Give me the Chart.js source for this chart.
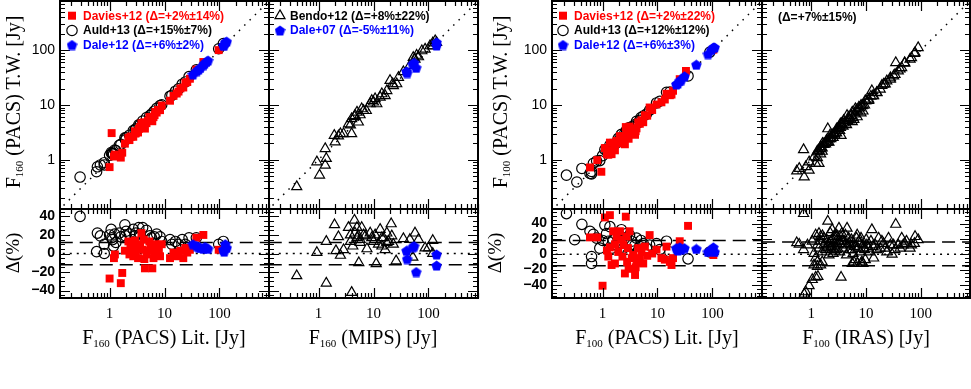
<!DOCTYPE html>
<html>
<head>
<meta charset="utf-8">
<title>PACS flux comparison</title>
<script src="https://cdn.jsdelivr.net/npm/chart.js@4.4.1/dist/chart.umd.min.js"></script>
<style>
html,body{margin:0;padding:0;background:#fff;}
#wrap{position:relative;width:971px;height:389px;overflow:hidden;background:#fff;}
#wrap canvas{position:absolute;left:0;top:0;}
.tt{position:absolute;font-family:"Liberation Serif","Times New Roman",serif;font-size:20px;line-height:20px;color:#000;white-space:nowrap;}
.tt sub{font-size:11px;vertical-align:-3px;line-height:0;}
.rot{transform:translate(-50%,-50%) rotate(-90deg);}
.hz{transform:translate(-50%,-50%);}
.dl{font-size:19px;}
</style>
</head>
<body>
<div id="wrap">
 <div class="tt rot" style="left:13px;top:102px">F<sub>160</sub> (PACS) T.W. [Jy]</div>
 <div class="tt rot dl" style="left:13px;top:253px">Δ(%)</div>
 <div class="tt rot" style="left:500px;top:102px">F<sub>100</sub> (PACS) T.W. [Jy]</div>
 <div class="tt rot dl" style="left:495px;top:253px">Δ(%)</div>
 <div class="tt hz" style="left:164px;top:337px">F<sub>160</sub> (PACS) Lit. [Jy]</div>
 <div class="tt hz" style="left:373px;top:337px">F<sub>160</sub> (MIPS) [Jy]</div>
 <div class="tt hz" style="left:657px;top:337px">F<sub>100</sub> (PACS) Lit. [Jy]</div>
 <div class="tt hz" style="left:866px;top:337px">F<sub>100</sub> (IRAS) [Jy]</div>
</div>
<script>
// ================= DATA =================
const logTickLabels = [1, 10, 100];
const deltaTickLabels = [-40, -20, 0, 20, 40];
const oneToOne = [0.01, 10000];
const zeroLine = 0;
const p1Sigma = [12, -12];
const p2Sigma = [12, -12];
const p3Sigma = [18, -15];
const p4Sigma = [16, -15];

// Panel 1: F160 PACS literature vs this work
const p1TopDavies = [[1.0,0.73],[1.6,1.09],[1.7,1.34],[1.2,1.14],[1.25,1.24],[1.9,1.96],[2.2,2.49],[2.3,2.28],[2.5,2.65],[2.7,2.62],[2.9,3.02],[3.0,3.03],[3.3,3.14],[3.6,3.96],[3.8,4.64],[4.0,4.16],[4.3,4.04],[4.4,3.7],[4.7,4.65],[5.0,5.15],[5.3,5.99],[5.8,6.03],[6.0,5.04],[6.3,5.99],[6.8,7.48],[7.2,7.27],[7.6,8.06],[8.3,8.05],[8.9,9.79],[12.6,11.97],[14.6,14.7],[16.7,16.2],[19.5,20.1],[22,20.9],[26,26.3],[29,30.2],[38,44.5],[51,61.2],[97,101],[2.9,3.31],[4.2,4.83],[5.6,6.05],[3.4,3.64],[2.4,2.62],[6.6,6.53],[7.9,8.14],[18,17.6],[24,25.4],[1.09,3.06]];
const p1TopAuld = [[0.29,0.48],[0.58,0.6],[0.6,0.74],[0.68,0.8],[0.8,0.88],[0.8,0.8],[1.0,1.2],[1.07,1.35],[1.13,1.3],[1.18,1.27],[1.24,1.5],[1.5,1.83],[1.9,2.5],[1.95,2.3],[2.3,2.8],[2.7,3.4],[2.9,3.45],[3.4,4.35],[4.0,5.1],[4.7,5.9],[5.4,6.4],[5.8,6.8],[7.2,8.7],[8.3,9.8],[8.9,10.1],[12.6,14.5],[13.6,15],[15.8,17.9],[18,19.8],[21,24],[24,26.4],[28,33],[38,44],[97,107],[118,133],[1.3,1.46],[1.6,1.9],[2.0,2.5],[1.1,1.29],[3.0,3.66],[3.6,4.36],[6.5,7.7]];
const p1TopDale = [[33,36.3],[38.6,41.7],[45,47.7],[51,53.6],[58,61.5],[62,65.1],[118,122.7],[128,140.8],[136,144.2],[122,124.4],[42,44.9],[54,57.8]];
const p1BotDavies = [[1.0,-27],[1.6,-32],[1.7,-21],[1.2,-5],[1.25,-1],[1.9,3],[2.2,13],[2.3,-1],[2.5,6],[2.7,-3],[2.9,4],[3.0,1],[3.3,-5],[3.6,10],[3.8,22],[4.0,4],[4.3,-6],[4.4,-16],[4.7,-1],[5.0,3],[5.3,13],[5.8,4],[6.0,-16],[6.3,-5],[6.8,10],[7.2,1],[7.6,6],[8.3,-3],[8.9,10],[12.6,-5],[14.6,1],[16.7,-3],[19.5,3],[22,-5],[26,1],[29,4],[38,17],[51,20],[97,4],[2.9,14],[4.2,15],[5.6,8],[3.4,7],[2.4,9],[6.6,-1],[7.9,3],[18,-2],[24,6]];
const p1BotAuld = [[0.29,40],[0.58,2],[0.6,22],[0.68,19],[0.8,10],[0.8,0],[1.0,20],[1.07,26],[1.13,15],[1.18,8],[1.24,21],[1.5,22],[1.9,31],[1.95,19],[2.3,21],[2.7,26],[2.9,19],[3.4,28],[4.0,28],[4.7,25],[5.4,19],[5.8,17],[7.2,21],[8.3,18],[8.9,13],[12.6,15],[13.6,10],[15.8,13],[18,10],[21,15],[24,10],[28,17],[38,17],[97,10],[118,13],[1.3,12],[1.6,18],[2.0,24],[1.1,17],[3.0,22],[3.6,21],[6.5,18]];
const p1BotDale = [[33,10],[38.6,8],[45,6],[51,5],[58,6],[62,5],[118,4],[128,10],[136,6],[122,2],[42,7],[54,7]];

// Panel 2: F160 MIPS vs this work
const p2TopBendo = [[0.40,0.32],[1.04,0.52],[0.93,0.91],[1.32,0.79],[1.38,1.05],[1.32,1.59],[2.0,2.1],[1.93,2.78],[2.5,2.98],[2.85,2.98],[4.0,2.98],[3.5,4.5],[4.0,5.6],[4.6,6.4],[5.3,4.87],[5.0,7.4],[6.1,8.5],[7.4,7.9],[9.3,12.1],[11.5,10.5],[10.7,13],[14.2,16],[16.3,14.8],[20,28],[22.4,24.4],[26.5,24.4],[28.5,32],[53,74],[61,81],[76,98],[87,105],[107,121],[133,150],[141,139],[13.2,13.9],[17.5,18.3],[23,22.6],[10,11.3],[8.7,10.5],[5.7,6.6],[6.6,7.9],[3.8,4.3],[4.5,6.1],[2.3,2.7],[35,40.6],[46,53],[57,69],[66,76],[120,137],[120,120]];
const p2TopDale07 = [[40,41.2],[41,38.5],[52,55.6],[55,59.4],[60,48],[141,139.6],[141,122.7]];
const p2BotBendo = [[0.40,-24],[0.93,1],[1.38,-32],[1.38,13],[1.95,31],[2.07,3],[2.3,18],[2.5,-2],[2.85,4],[3.5,28],[3.8,20],[4.0,-42],[4.2,8],[4.5,36],[4.6,22],[5.0,28],[5.3,19],[5.4,-10],[5.7,12],[6.1,28],[6.6,20],[7.6,5],[8.7,22],[9.3,17],[10.7,20],[11.2,-11],[12.3,10],[13.2,26],[14.2,8],[15.2,17],[16.3,4],[17.5,22],[18.8,13],[21,32],[21.5,19],[23,10],[25.8,-8],[35,16],[46,15],[52,-4],[57,22],[66,15],[87,6],[100,6],[120,14],[120,0],[5.0,17],[7.1,19],[10,13],[14.2,17],[17.5,12],[5.7,15],[3.8,13]];
const p2BotDale07 = [[40,3],[41,-6],[52,7],[55,8],[60,-20],[141,-1],[141,-13]];

// Panel 3: F100 PACS literature vs this work
const p3TopDavies = [[0.59,0.72],[0.8,0.98],[0.95,0.6],[1.1,1.63],[1.36,2.05],[1.36,1.48],[1.27,1.23],[1.46,1.26],[1.56,2.03],[1.68,1.48],[1.8,2.21],[2.07,2.69],[2.2,2.62],[2.4,2.69],[2.55,1.91],[2.65,3.95],[2.73,3.36],[2.8,2.52],[2.9,3.13],[2.98,2.41],[3.6,3.56],[3.9,2.85],[4.15,3.74],[4.45,4.81],[4.77,4.53],[5.1,5.25],[5.5,4.84],[5.9,6.49],[7.2,9.0],[9.6,10.2],[11.8,11.2],[13.6,12.6],[14.6,16.1],[16.8,15.1],[18,15.5],[19.2,18.2],[25.4,29.7],[33,42],[104,103],[1.68,1.9],[1.93,1.99],[3.1,4.03],[3.4,3.23],[1.2,1.26],[2.3,2.23],[4.0,3.32],[6.5,6.37],[8,8.1]];
const p3TopAuld = [[0.22,0.52],[0.34,0.39],[0.42,0.69],[0.59,0.56],[0.63,0.61],[0.63,0.55],[0.68,0.86],[0.78,0.94],[0.89,0.96],[1.1,1.52],[1.18,1.5],[1.27,1.49],[1.36,1.85],[1.46,1.58],[1.56,1.86],[1.8,2.02],[1.93,2.45],[2.2,2.9],[2.4,2.59],[2.55,3.09],[2.73,3.47],[2.9,2.93],[3.4,3.98],[3.9,4.37],[4.15,5.02],[4.77,5.25],[5.5,6.27],[6.3,6.8],[7.2,8.06],[9.6,10.9],[11,11.7],[14.6,17.1],[16.8,17.3],[36,34],[90,93],[1.0,1.18],[2.0,2.3],[3.1,3.88],[4.5,4.73],[5.0,5.9]];
const p3TopDale = [[22,23.8],[25.4,27.7],[27,28.6],[31,33.5],[51,54.6],[83,85.5],[96,102],[104,113],[110,113],[23.5,24.7]];
const p3BotDavies = [[0.59,22],[0.8,22],[1.0,-41],[1.1,48],[1.36,51],[1.36,9],[1.27,-3],[1.46,-14],[1.56,30],[1.68,-12],[1.8,23],[2.07,30],[2.2,19],[2.4,12],[2.55,-25],[2.65,49],[2.73,23],[2.8,-10],[2.9,8],[2.98,-19],[3.6,-1],[3.9,-27],[4.15,-10],[4.45,8],[4.77,-5],[5.1,3],[5.5,-12],[5.9,10],[7.2,25],[9.6,6],[11.8,-5],[13.6,-7],[14.6,10],[16.8,-10],[18,-14],[19.2,-5],[25.4,17],[36,37],[104,-1],[1.68,13],[1.93,3],[3.1,30],[3.4,-5],[1.2,5],[2.3,-3],[4.0,-17],[6.5,-2],[8,1]];
const p3BotAuld = [[0.22,53],[0.31,19],[0.42,39],[0.59,30],[0.63,-3],[0.63,-12],[0.68,26],[0.78,21],[0.89,8],[1.1,38],[1.18,27],[1.27,17],[1.36,36],[1.46,8],[1.56,19],[1.8,12],[1.93,27],[2.2,32],[2.4,8],[2.55,21],[2.73,27],[2.9,1],[3.4,17],[3.9,12],[4.15,21],[4.77,10],[5.5,14],[6.3,8],[7.2,12],[9.6,14],[11,6],[14.6,17],[16.8,3],[36,-6],[90,3],[1.0,18],[2.0,15],[3.1,25],[4.5,5],[5.0,18]];
const p3BotDale = [[22,8],[25.4,9],[27,6],[31,8],[51,7],[83,3],[96,6],[104,9],[110,3],[23.5,5]];

// Panel 4: F100 IRAS vs this work
const p4TopIras = [[0.72,1.52],[0.54,0.62],[0.6,0.69],[0.74,0.48],[0.79,0.74],[0.91,0.64],[0.91,0.91],[1.12,1.12],[1.2,0.85],[1.38,0.85],[1.29,1.38],[1.48,1.58],[1.7,1.95],[2.0,2.1],[2.0,3.66],[2.25,2.4],[2.6,2.97],[2.8,3.18],[3.2,3.93],[3.4,4.5],[3.5,2.77],[3.9,5.2],[4.5,6.4],[4.8,5.96],[5.6,7.4],[6.4,8.5],[7.4,9.1],[8.4,9.7],[9.7,12],[11.2,12.8],[12.8,18.2],[13.8,14.7],[15.8,17],[18.2,19.5],[21,24],[24,27.6],[28,29.6],[32,34],[35,59.5],[39,42],[45,48],[51,59.5],[68,73],[79,90],[90,112],
 [1.29,1.44],[1.38,1.49],[1.48,1.73],[1.58,1.63],[1.7,1.9],[1.82,1.93],[1.9,2.26],[2.1,2.39],[2.1,2.08],[2.25,2.43],[2.4,2.86],[2.5,2.53],[2.65,3.02],[2.9,3.07],[3.05,3.69],[3.3,3.4],[3.4,3.88],[3.8,4.1],[4.0,4.68],[4.4,4.36],[4.6,5.15],[5.0,5.3],[5.4,6.43],[5.8,5.86],[6.2,6.82],[6.7,8.1],[7.1,7.67],[7.7,8.78],[8.1,9.8],[8.8,9.86],[9.4,9.96],[10.1,12],[11.2,12.1],[12.3,14.4],[13.4,14.7],[15.8,16.7],[19.5,22.8],[22.5,24.3],[28,31.4],[34,36],[42,45.4],[51,58],[64,69],[77,87.8],
 [6.0,5.4],[6.9,6.07],[8.1,7.13],[8.8,7.74],[5.6,4.93],[1.48,1.27],[1.58,1.42],[1.29,1.08],
 [1.6,1.98],[2.2,2.82],[2.9,3.63],[3.6,4.57],[1.9,2.07],[2.7,2.81],[3.1,3.63],[4.9,5.59],[3.5,4.27],[2.3,2.53]];
const p4BotIras = [[0.72,53],[0.54,15],[0.6,13],[0.72,6],[0.74,-52],[0.79,-49],[0.91,-41],[1.04,-33],[1.2,-30],[1.32,-29],[1.12,-14],[1.29,-10],[1.2,-5],[1.12,1],[0.85,12],[1.04,17],[1.2,25],[1.38,27],[1.48,23],[1.7,21],[2.0,43],[2.0,12],[2.25,17],[2.4,32],[2.6,23],[2.8,8],[3.0,12],[3.2,34],[3.5,-30],[3.65,17],[4.2,25],[4.5,34],[4.8,21],[5.2,12],[5.6,6],[6.0,14],[6.4,-7],[6.9,25],[7.4,17],[7.9,3],[8.4,-10],[9.0,8],[9.7,-7],[10.4,12],[11.7,3],[12.8,32],[13.8,-5],[14.8,12],[17,21],[18.2,8],[21,14],[24,3],[25.8,21],[30,0],[32,12],[35,39],[39,12],[45,21],[48,12],[55,17],[68,12],[79,23],[90,19],
 [1.29,12],[1.38,8],[1.48,17],[1.58,3],[1.7,12],[1.82,6],[1.9,19],[2.1,14],[2.1,-1],[2.25,8],[2.4,19],[2.5,1],[2.65,14],[2.9,6],[3.05,21],[3.3,3],[3.4,14],[3.8,8],[4.0,17],[4.4,-1],[4.6,12],[5.0,6],[5.4,19],[5.8,1],[6.2,10],[6.7,21],[7.1,8],[7.7,14],[8.1,21],[8.8,12],[9.4,6],[10.1,19],[11.2,8],[12.3,17],[13.4,10],[15.8,6],[19.5,17],[22.5,8],[28,12],[34,6],[42,8],[51,14],[64,8],[77,14],
 [6.0,-10],[6.9,-12],[8.1,-12],[8.8,-12],[5.6,-12],[1.48,-14],[1.58,-10],[1.29,-16],
 [1.6,24],[2.2,28],[2.9,25],[3.6,27],[1.9,9],[2.7,4],[3.1,17],[4.9,14],[3.5,22],[2.3,10]];

// ================= STYLE / RENDERING =================
const RED = '#ff0000', BLUE = '#0000ff', BLACK = '#000000';
const W = 971, H = 389;
const wrap = document.getElementById('wrap');

function makePentagon(size, color) {
  const c = document.createElement('canvas');
  c.width = size; c.height = size;
  const g = c.getContext('2d');
  const r = size / 2;
  const cy = r + r * (1 - Math.cos(Math.PI / 5)) / 2;
  g.beginPath();
  for (let i = 0; i < 5; i++) {
    const a = -Math.PI / 2 + i * 2 * Math.PI / 5;
    g.lineTo(r + r * Math.cos(a), cy + r * Math.sin(a));
  }
  g.closePath(); g.fillStyle = color; g.fill();
  return c;
}
const PENT = makePentagon(11, BLUE);

const pts = a => a.map(([x, y]) => ({x, y}));
const squares = d => ({data: pts(d), pointStyle: 'rect', pointRadius: 5.6, backgroundColor: RED, borderWidth: 0});
const circles = d => ({data: pts(d), pointStyle: 'circle', pointRadius: 5.2, backgroundColor: 'rgba(0,0,0,0)', borderColor: BLACK, borderWidth: 1.2});
const triangles = d => ({data: pts(d), pointStyle: 'triangle', pointRadius: 5.8, backgroundColor: 'rgba(0,0,0,0)', borderColor: BLACK, borderWidth: 1.2});
const pentagons = d => ({data: pts(d), pointStyle: PENT, pointRadius: 5, backgroundColor: BLUE, borderWidth: 0});
const diagLine = () => ({data: oneToOne.map(v => ({x: v, y: v})), showLine: true, pointRadius: 0, borderColor: BLACK, borderWidth: 1.5, borderDash: [1.5, 6]});
const hLine = (y, dash, w) => ({data: oneToOne.map(v => ({x: v, y})), showLine: true, pointRadius: 0, borderColor: BLACK, borderWidth: w, borderDash: dash});
const deltaLines = s => [hLine(s[0], [13, 7], 1.5), hLine(s[1], [13, 7], 1.5), hLine(zeroLine, [2, 5], 1.3)];

function tickValues(scale) {
  const out = [];
  if (scale.type === 'logarithmic') {
    const k0 = Math.floor(Math.log10(scale.min)), k1 = Math.ceil(Math.log10(scale.max));
    for (let k = k0; k <= k1; k++) for (let m = 1; m <= 9; m++) {
      const v = m * Math.pow(10, k);
      if (v >= scale.min * 0.999 && v <= scale.max * 1.001) out.push([v, m === 1]);
    }
  } else {
    for (let v = Math.ceil(scale.min / 5) * 5; v <= scale.max; v += 5) out.push([v, v % 20 === 0]);
  }
  return out;
}

const frameTicks = {
  id: 'frameTicks',
  afterDatasetsDraw(chart) {
    const {ctx, chartArea: a} = chart;
    const xs = chart.scales.x, ys = chart.scales.y;
    ctx.save();
    ctx.strokeStyle = BLACK; ctx.lineWidth = 1.2; ctx.setLineDash([]);
    ctx.beginPath();
    for (const [v, maj] of tickValues(xs)) {
      const p = Math.round(xs.getPixelForValue(v)) + 0.5, L = maj ? 10 : 5;
      ctx.moveTo(p, a.bottom); ctx.lineTo(p, a.bottom - L);
      ctx.moveTo(p, a.top); ctx.lineTo(p, a.top + L);
    }
    for (const [v, maj] of tickValues(ys)) {
      const p = Math.round(ys.getPixelForValue(v)) + 0.5, L = maj ? 10 : 5;
      ctx.moveTo(a.left, p); ctx.lineTo(a.left + L, p);
      ctx.moveTo(a.right, p); ctx.lineTo(a.right - L, p);
    }
    ctx.stroke();
    ctx.lineWidth = 2;
    ctx.strokeRect(a.left, a.top, a.right - a.left, a.bottom - a.top);
    ctx.restore();
  }
};

function drawMarker(ctx, style, color, x, y) {
  ctx.save();
  if (style === 'rect') { ctx.fillStyle = color; ctx.fillRect(x - 4, y - 4, 8, 8); }
  else if (style === 'circle') { ctx.strokeStyle = color; ctx.lineWidth = 1.2; ctx.beginPath(); ctx.arc(x, y, 5.2, 0, Math.PI * 2); ctx.stroke(); }
  else if (style === 'triangle') {
    const r = 5.8; ctx.strokeStyle = color; ctx.lineWidth = 1.2; ctx.beginPath();
    for (let i = 0; i < 3; i++) { const a = i * 2 * Math.PI / 3; ctx.lineTo(x + Math.sin(a) * r, y - Math.cos(a) * r); }
    ctx.closePath(); ctx.stroke();
  }
  else if (style === 'pent') { ctx.drawImage(PENT, x - PENT.width / 2, y - PENT.height / 2); }
  ctx.restore();
}

const panelLegend = {
  id: 'panelLegend',
  afterDraw(chart, args, opts) {
    const items = opts.items || [];
    const ctx = chart.ctx;
    ctx.save();
    ctx.font = 'bold 12px "Liberation Sans", Arial, sans-serif';
    ctx.textBaseline = 'middle'; ctx.textAlign = 'left';
    for (const it of items) {
      if (it.marker) drawMarker(ctx, it.marker, it.color, it.mx, it.y);
      ctx.fillStyle = it.color;
      ctx.fillText(it.text, it.tx, it.y + 0.5);
    }
    ctx.restore();
  }
};

const zeroPad = s => { s.paddingLeft = 0; s.paddingRight = 0; s.paddingTop = 0; s.paddingBottom = 0; };

function makePanel(cfg) {
  const c = document.createElement('canvas');
  c.width = W; c.height = H;
  wrap.insertBefore(c, wrap.firstChild);
  const [L, T, R, B] = cfg.box;
  const yW = cfg.yLabels ? cfg.yW : 0;
  const xH = cfg.xLabels ? 40 : 0;
  const isDelta = cfg.yType === 'linear';
  new Chart(c, {
    type: 'scatter',
    data: {datasets: cfg.datasets},
    options: {
      responsive: false, animation: false, events: [], devicePixelRatio: 1,
      layout: {autoPadding: false, padding: {left: L - yW, top: T, right: W - R, bottom: H - B - xH}},
      plugins: {legend: {display: false}, tooltip: {enabled: false}, panelLegend: {items: cfg.legend || []}},
      scales: {
        x: {
          type: 'logarithmic', min: cfg.xr[0], max: cfg.xr[1], display: cfg.xLabels, position: 'bottom',
          grid: {display: false, drawTicks: false}, border: {display: false},
          ticks: {color: BLACK, padding: 7, autoSkip: false, maxRotation: 0,
                  font: {family: '"Liberation Serif", "Times New Roman", serif', size: 15},
                  callback: v => String(v)},
          afterBuildTicks: s => { s.ticks = logTickLabels.map(v => ({value: v})); },
          afterFit: s => { s.height = xH; zeroPad(s); }
        },
        y: {
          type: cfg.yType, min: cfg.yr[0], max: cfg.yr[1], display: cfg.yLabels, position: 'left',
          grid: {display: false, drawTicks: false}, border: {display: false},
          ticks: {color: BLACK, padding: 5, autoSkip: false,
                  font: isDelta ? {family: '"Liberation Sans", Arial, sans-serif', size: 14, weight: 'bold'}
                                : {family: '"Liberation Sans", Arial, sans-serif', size: 14},
                  callback: v => (v < 0 ? '\u2212' + (-v) : String(v))},
          afterBuildTicks: s => { s.ticks = (isDelta ? deltaTickLabels : logTickLabels).map(v => ({value: v})); },
          afterFit: s => { s.width = yW; zeroPad(s); }
        }
      }
    },
    plugins: [frameTicks, panelLegend]
  });
}

const range160 = [0.125, 800];
const range100 = [0.12, 800];
const rangeIras = [0.125, 800];
const dRange1 = [-48, 48];
const dRange3 = [-57, 59];
const leg = (marker, color, mx, tx, y, text) => ({marker, color, mx, tx, y, text});

// Panel 1
makePanel({box: [60, 1, 269, 209], xr: range160, yr: range160, yType: 'logarithmic', yLabels: true, yW: 60, xLabels: false,
  datasets: [pentagons(p1TopDale), squares(p1TopDavies), circles(p1TopAuld), diagLine()],
  legend: [leg('rect', RED, 72, 83, 15.7, 'Davies+12 (\u0394=+2%\u00b114%)'),
           leg('circle', BLACK, 72, 83, 30.5, 'Auld+13 (\u0394=+15%\u00b17%)'),
           leg('pent', BLUE, 72, 83, 45, 'Dale+12 (\u0394=+6%\u00b12%)')]});
makePanel({box: [60, 209, 269, 298], xr: range160, yr: dRange1, yType: 'linear', yLabels: true, yW: 60, xLabels: true,
  datasets: [pentagons(p1BotDale), squares(p1BotDavies), circles(p1BotAuld), ...deltaLines(p1Sigma)]});
// Panel 2
makePanel({box: [269, 1, 478, 209], xr: range160, yr: range160, yType: 'logarithmic', yLabels: false, xLabels: false,
  datasets: [pentagons(p2TopDale07), triangles(p2TopBendo), diagLine()],
  legend: [leg('triangle', BLACK, 280, 290, 15.7, 'Bendo+12 (\u0394=+8%\u00b122%)'),
           leg('pent', BLUE, 280, 290, 30.5, 'Dale+07 (\u0394=-5%\u00b111%)')]});
makePanel({box: [269, 209, 478, 298], xr: range160, yr: dRange1, yType: 'linear', yLabels: false, xLabels: true,
  datasets: [pentagons(p2BotDale07), triangles(p2BotBendo), ...deltaLines(p2Sigma)]});
// Panel 3
makePanel({box: [552, 1, 762, 209], xr: range100, yr: range160, yType: 'logarithmic', yLabels: true, yW: 60, xLabels: false,
  datasets: [pentagons(p3TopDale), squares(p3TopDavies), circles(p3TopAuld), diagLine()],
  legend: [leg('rect', RED, 563, 574, 15.7, 'Davies+12 (\u0394=+2%\u00b122%)'),
           leg('circle', BLACK, 563, 574, 30.5, 'Auld+13 (\u0394=+12%\u00b112%)'),
           leg('pent', BLUE, 563, 574, 45, 'Dale+12 (\u0394=+6%\u00b13%)')]});
makePanel({box: [552, 209, 762, 298], xr: range100, yr: dRange3, yType: 'linear', yLabels: true, yW: 60, xLabels: true,
  datasets: [pentagons(p3BotDale), squares(p3BotDavies), circles(p3BotAuld), ...deltaLines(p3Sigma)]});
// Panel 4
makePanel({box: [762, 1, 970, 209], xr: rangeIras, yr: range160, yType: 'logarithmic', yLabels: false, xLabels: false,
  datasets: [triangles(p4TopIras), diagLine()],
  legend: [leg(null, BLACK, 0, 778, 16.7, '(\u0394=+7%\u00b115%)')]});
makePanel({box: [762, 209, 970, 298], xr: rangeIras, yr: dRange3, yType: 'linear', yLabels: false, xLabels: true,
  datasets: [triangles(p4BotIras), ...deltaLines(p4Sigma)]});
</script>
</body>
</html>
